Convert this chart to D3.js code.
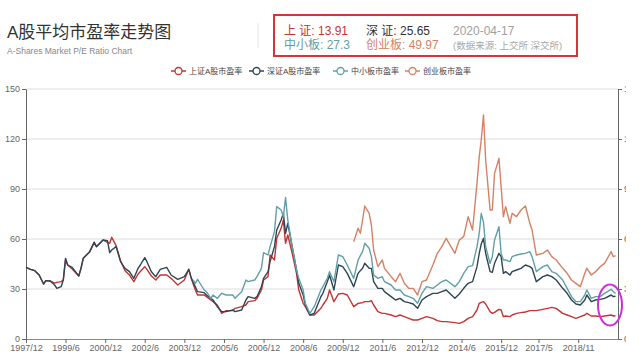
<!DOCTYPE html>
<html><head><meta charset="utf-8">
<script src="https://cdn.jsdelivr.net/npm/d3@7"></script>
<style>
body{margin:0;background:#fff}
svg{display:block;font-family:"Liberation Sans","Noto Sans CJK SC",sans-serif}
</style>
</head><body>
<svg id="c" width="640" height="359"></svg>
<script>
const dates = ["1997-12","1998-02","1998-04","1998-06","1998-08","1998-09","1998-11","1999-01","1999-02","1999-04",
"1999-05","1999-06","1999-07","1999-09","1999-12","2000-01","2000-02","2000-05","2000-07","2000-08",
"2000-11","2001-01","2001-02","2001-03","2001-05","2001-07","2001-09","2001-11","2002-01","2002-03",
"2002-04","2002-06","2002-07","2002-09","2002-11","2003-01","2003-04","2003-06","2003-09","2003-12",
"2004-02","2004-03","2004-04","2004-05","2004-06","2004-09","2004-10","2004-12","2005-01","2005-03",
"2005-05","2005-07","2005-10","2005-11","2006-02","2006-04","2006-05","2006-08","2006-09","2006-11",
"2006-12","2007-02","2007-03","2007-05","2007-06","2007-08","2007-09","2007-10","2007-11","2008-01",
"2008-03","2008-04","2008-06","2008-07","2008-09","2008-11","2009-02","2009-03","2009-05","2009-06",
"2009-08","2009-10","2009-12","2010-02","2010-05","2010-07","2010-08","2010-09","2010-10","2010-12",
"2011-01","2011-02","2011-04","2011-06","2011-07","2011-10","2011-12","2012-02","2012-04","2012-06",
"2012-08","2012-10","2012-12","2013-02","2013-05","2013-07","2013-09","2013-11","2014-03","2014-05",
"2014-07","2014-09","2014-11","2015-01","2015-02","2015-03","2015-04","2015-05","2015-07","2015-08",
"2015-09","2015-11","2015-12","2016-01","2016-02","2016-04","2016-05","2016-07","2016-09","2016-11",
"2017-01","2017-02","2017-04","2017-07","2017-09","2017-11","2018-01","2018-04","2018-06","2018-08",
"2018-10","2018-12","2019-02","2019-03","2019-05","2019-07","2019-09","2019-11","2020-02","2020-03",
"2020-04"];

const shangzheng = [43,41.8,41,38.4,33,35,34.8,33.5,34,34.4,
35.4,47.5,44.4,42,37.8,42.4,48.4,52.4,58,55.4,
59.4,58,57.4,61,56,47,41,38.4,34.4,39,
40.5,43.4,41.8,37.8,35.4,38.4,38.4,36.4,32.4,35.4,
41.8,36.8,33,29.4,26.4,26.4,25.4,23.4,22.4,20.4,
15.4,17,17,18.4,19.4,20.4,22.4,23,24.4,29.4,
35.4,37.4,50.4,47.4,60.4,66.4,71.4,57.4,62.4,51.4,
39.4,29.4,21.4,19.4,14.4,14.4,18.4,20.4,24.4,29.4,
22.4,27,27.4,26.4,19.4,21.4,21.6,21.8,22.4,22.4,
23,20.4,16.4,15.4,15.4,14.4,13.4,14.4,13.4,12.4,
11.4,11.4,12.4,13.4,12.4,11,10.4,10.4,9.8,9.4,
10.4,12.4,13.4,17.4,21.4,22,22.4,21,16.4,15.4,
16,17.8,17.4,13.4,13.8,13.4,14.4,15.4,15.8,16.2,
17,17,17,17.8,18.4,19,18.4,15.4,14.4,13.4,
12.4,13.4,14.4,15.4,13.8,13.8,13.4,13.8,14.4,13.8,
13.91];

const shenzheng = [43,41.8,41,38.4,33,35,34.8,32.4,30.4,31.4,
35.4,48.4,44.4,43,37.8,42.4,48.4,52.4,58,55.4,
59.4,59,51.8,53.4,55.4,46.4,42.4,40.4,36.4,42.4,
44.4,48.8,46.4,40.4,37.4,41.8,43,38.4,35.8,37.4,
41.8,37.4,34,31.4,28.4,27.8,26.4,24.4,23.4,19.4,
16.4,16.4,17.4,16.4,17.4,23.4,25.4,24.4,25.4,31.4,
36.4,40.4,46.4,55.4,65.4,71.4,75.4,63.4,69.4,55.4,
41.4,33.4,26.4,20.4,14.4,15.4,25.4,27.4,34.4,38.4,
29.4,44.4,43.4,39.4,31.4,39.4,41,42.4,45.4,42.4,
42.4,34.4,30.4,30.4,28.4,25.4,23.4,24.4,22.4,21.8,
21,18.4,23.4,25.4,27.4,27.4,28.4,29.4,24.4,27,
30.4,33.4,34.4,43.4,51.4,57,60.4,51.4,40.4,40,
45.4,51.4,49.4,39.4,40.4,38.4,40.4,41.4,42.4,44.4,
43.4,42.4,34.4,37.4,38.4,37.4,35.4,30.4,27.4,23.4,
21,20.4,23.4,26.4,22.4,23.4,23.8,24.4,26.4,25.4,
25.65];

const zhongxiaoban = [null,null,null,null,null,null,null,null,null,null,
null,null,null,null,null,null,null,null,null,null,
null,null,null,null,null,null,null,null,null,null,
null,null,null,null,null,null,null,null,null,null,
null,null,35.4,33.4,35.8,29.4,28.4,24.4,26.4,24.4,
27.4,26.4,26.4,24.4,28.4,35.4,34.4,35.4,37.4,42.4,
51.8,50.4,55.4,64.4,79.4,77.4,73.4,85,71.4,55.4,
41.4,36.4,29.4,21.4,15.4,19.4,29.4,31.4,36.4,40.4,
34.4,50.4,49.4,44.4,36.4,47.4,50,52.4,57.4,54.4,
49.4,38.4,36.4,37.4,34.4,32.4,29.4,29.4,26.4,25.4,
24.4,21.4,27.4,31.4,30.4,32.4,34.4,35.4,31.4,34.4,
39.4,43.4,44,55.4,63.4,75.4,70,55.4,45.4,49.4,
59.4,67.4,51.4,47.4,47.4,46.4,49.4,50.4,51,51.4,
52.4,49.4,40.4,43.4,44.4,40.4,39.4,35.4,30.4,25.4,
22.4,22.4,26.4,29.4,24.4,25.4,25.4,27.4,29.8,28.4,
27.3];

const chuangyeban = [null,null,null,null,null,null,null,null,null,null,
null,null,null,null,null,null,null,null,null,null,
null,null,null,null,null,null,null,null,null,null,
null,null,null,null,null,null,null,null,null,null,
null,null,null,null,null,null,null,null,null,null,
null,null,null,null,null,null,null,null,null,null,
null,null,null,null,null,null,null,null,null,null,
null,null,null,null,null,null,null,null,null,null,
null,null,null,null,58.4,66.4,63.4,71.4,79.8,75.4,
68.4,53.4,43.4,47.4,42.4,37.4,34.4,39.4,33.4,30.4,
30.4,26.4,34.4,35.4,44.4,51.4,55.4,60.4,51.4,59.4,
61.4,73.4,65.4,93.4,109.4,119.4,134.4,107.4,77.4,77.4,
99.4,108.4,91.4,73.4,79.4,69.4,75.4,73.4,77.4,79.8,
69.4,65.4,50.4,51.4,53.4,49.4,47.4,42.4,39.4,35.4,
33.4,31.4,39.4,42.4,38.4,40.4,43.4,45.4,52.4,49.4,
49.97];

const seriesNames = ["上证A股市盈率","深证A股市盈率","中小板市盈率","创业板市盈率"];
const seriesColors = ["#c23531","#2f4554","#61a0a8","#d48265"];
const xTickLabels = ["1997/12","1999/6","2000/12","2002/6","2003/12","2005/6","2006/12","2008/6",
"2009/12","2011/6","2012/12","2014/6","2015/12","2017/5","2018/11"];
const yTicks = [0,30,60,90,120,150];
const latestLabels = ["上 证","深 证","中小板","创业板"];
const latestValues = ["13.91","25.65","27.3","49.97"];
const latestDate = "2020-04-17";
const sourceNote = "(数据来源: 上交所 深交所)";

const svg = d3.select("#c");
const parseM = d3.timeParse("%Y-%m");
const parseT = d3.timeParse("%Y/%m");
const xd = dates.map(parseM);

const x = d3.scaleTime().domain([new Date(1997,11,1), new Date(2020,4,5)]).range([26,618]);
const y = d3.scaleLinear().domain([0,150]).range([339,89]);

// grid
svg.append("g").selectAll("line").data(yTicks.filter(d=>d>0)).join("line")
  .attr("x1",26).attr("x2",618).attr("y1",d=>y(d)).attr("y2",d=>y(d))
  .attr("stroke","#dcdcdc").attr("stroke-width",1);

// axes
function styleAxis(g){
  g.select(".domain").attr("stroke","#666");
  g.selectAll(".tick line").attr("stroke","#666");
  g.selectAll("text").attr("fill","#666").style("font-size","9px")
    .style("font-family","'Liberation Sans',sans-serif");
}
svg.append("g").attr("transform","translate(26,0)")
  .call(d3.axisLeft(y).tickValues(yTicks).tickSize(4).tickSizeOuter(0).tickPadding(2)).call(styleAxis)
  .call(g=>g.selectAll(".tick text").attr("dy","0.25em"));

svg.append("defs").append("clipPath").attr("id","rc").append("rect")
  .attr("x",0).attr("y",0).attr("width",626).attr("height",359);
svg.append("g").attr("clip-path","url(#rc)").append("g").attr("transform","translate(618,0)")
  .call(d3.axisRight(y).tickValues(yTicks).tickSize(4).tickSizeOuter(0).tickPadding(2)).call(styleAxis)
  .call(g=>g.selectAll(".tick text").attr("dy","0.25em"));

svg.append("g").attr("transform","translate(0,339)")
  .call(d3.axisBottom(x).tickValues(xTickLabels.map(parseT)).tickFormat((d,i)=>xTickLabels[i])
    .tickSize(4).tickSizeOuter(0).tickPadding(2)).call(styleAxis)
  .call(g=>g.select(".domain").attr("stroke","#888"));

// lines
const allSeries = [shangzheng, shenzheng, zhongxiaoban, chuangyeban];
const line = d3.line().defined(d=>d[1]!=null).x(d=>x(d[0])).y(d=>y(d[1])).curve(d3.curveLinear);
allSeries.forEach((vals,i)=>{
  svg.append("path").datum(vals.map((v,j)=>[xd[j],v]))
    .attr("d",line).attr("fill","none").attr("stroke",seriesColors[i])
    .attr("stroke-width",1.4).attr("stroke-linejoin","round");
});

// title
svg.append("text").attr("x",7).attr("y",38).text("A股平均市盈率走势图")
  .attr("fill","#333").style("font-size","17px");
svg.append("text").attr("x",7).attr("y",54).text("A-Shares Market P/E Ratio Chart")
  .attr("fill","#888").style("font-size","8.5px");
svg.append("line").attr("x1",258).attr("x2",258).attr("y1",23).attr("y2",48).attr("stroke","#e4e4e4");

// info box
svg.append("rect").attr("x",274).attr("y",15).attr("width",303).attr("height",41)
  .attr("fill","none").attr("stroke","#d8333a").attr("stroke-width",2);
const infoColors = ["#c23531","#333333","#61a0a8","#d48265"];
const infoPos = [[284,34.5],[366,34.5],[284,49],[366,49]];
latestLabels.forEach((l,i)=>{
  svg.append("text").attr("x",infoPos[i][0]).attr("y",infoPos[i][1])
    .attr("fill",infoColors[i]).style("font-size","12px").text(l+": "+latestValues[i]);
});
svg.append("text").attr("x",453).attr("y",34.5).attr("fill","#a0a0a0").style("font-size","12px").text(latestDate);
svg.append("text").attr("x",453).attr("y",49).attr("fill","#a8a8a8").style("font-size","9.5px").text(sourceNote);

// legend
const legX = [171,249,333,405];
seriesNames.forEach((n,i)=>{
  const g = svg.append("g").attr("transform",`translate(${legX[i]},71)`);
  g.append("line").attr("x1",0).attr("x2",15).attr("y1",0).attr("y2",0).attr("stroke",seriesColors[i]).attr("stroke-width",1.5);
  g.append("circle").attr("cx",7.5).attr("cy",0).attr("r",3.5).attr("fill","#fff").attr("stroke",seriesColors[i]).attr("stroke-width",1.3);
  g.append("text").attr("x",18).attr("y",3).attr("fill","#444").style("font-size","8px").text(n);
});

// highlight ellipse
svg.append("ellipse").attr("cx",610).attr("cy",305).attr("rx",12).attr("ry",20.5)
  .attr("fill","none").attr("stroke","#cc2fd8").attr("stroke-width",2);
</script>
</body></html>
